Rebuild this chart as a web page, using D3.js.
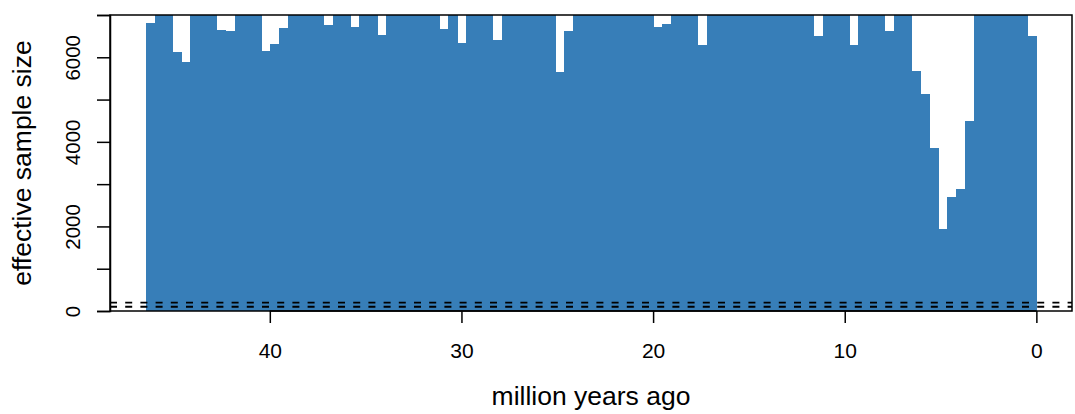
<!DOCTYPE html>
<html>
<head>
<meta charset="utf-8">
<script src="https://cdn.jsdelivr.net/npm/d3@7"></script>
<style>
  html, body { margin: 0; padding: 0; background: #ffffff; }
  svg { display: block; }
  text { font-family: "Liberation Sans", Arial, Helvetica, sans-serif; fill: #000; }
</style>
</head>
<body>
<svg id="chart" width="1075" height="414"></svg>
<script>
// ---- data ----
const rootAge = 46.48;           // million years ago, oldest bin edge
const binCount = 100;            // equal-width age bins
// effective sample size per bin, oldest (left) to youngest (right);
// values drawn as 7500 exceed the plotted range and are clipped at the top
const essValues = [
  6800, 7500, 7500, 6120, 5880, 7500, 7500, 7500, 6640, 6610,
  7500, 7500, 7500, 6160, 6310, 6700, 7500, 7500, 7500, 7500,
  6760, 7500, 7500, 6710, 7500, 7500, 6520, 7500, 7500, 7500,
  7500, 7500, 7500, 6660, 7500, 6330, 7500, 7500, 7500, 6400,
  7500, 7500, 7500, 7500, 7500, 7500, 5650, 6610, 7500, 7500,
  7500, 7500, 7500, 7500, 7500, 7500, 7500, 6710, 6780, 7500,
  7500, 7500, 6280, 7500, 7500, 7500, 7500, 7500, 7500, 7500,
  7500, 7500, 7500, 7500, 7500, 6500, 7500, 7500, 7500, 6280,
  7500, 7500, 7500, 6610, 7500, 7500, 5680, 5130, 3850, 1930,
  2690, 2890, 4500, 7500, 7500, 7500, 7500, 7500, 7500, 6500
];
const thresholds = [200, 100];   // dashed reference lines
const xTicks = [0, 10, 20, 30, 40];
const yTicks = [0, 1000, 2000, 3000, 4000, 5000, 6000, 7000];
const yLabels = [0, 2000, 4000, 6000];
const yMax = 7000;
const xLabel = "million years ago";
const yLabel = "effective sample size";

// ---- layout ----
const plot = { left: 110, right: 1072, top: 15, bottom: 311 };
const svg = d3.select("#chart");

const pad = rootAge * 0.04;
const x = d3.scaleLinear().domain([rootAge + pad, -pad]).range([plot.left, plot.right]);
const y = d3.scaleLinear().domain([0, yMax]).range([plot.bottom, plot.top]);

const binWidth = rootAge / binCount;
const bins = essValues.map((v, i) => ({
  older: rootAge - i * binWidth,
  younger: rootAge - (i + 1) * binWidth,
  value: v
}));

svg.append("clipPath").attr("id", "clip")
  .append("rect")
  .attr("x", plot.left).attr("y", plot.top)
  .attr("width", plot.right - plot.left).attr("height", plot.bottom - plot.top);

const g = svg.append("g").attr("clip-path", "url(#clip)");

g.selectAll("rect.bar").data(bins).enter().append("rect")
  .attr("class", "bar")
  .attr("x", d => x(d.older))
  .attr("width", d => x(d.younger) - x(d.older) + 0.4)
  .attr("y", d => y(d.value))
  .attr("height", d => y(0) - y(d.value))
  .attr("fill", "#377eb8")
  .attr("shape-rendering", "crispEdges");

g.selectAll("line.thr").data(thresholds).enter().append("line")
  .attr("class", "thr")
  .attr("x1", plot.left).attr("x2", plot.right)
  .attr("y1", d => y(d)).attr("y2", d => y(d))
  .attr("stroke", "#000").attr("stroke-width", 1.8)
  .attr("stroke-dasharray", "7,8.2");

// box
svg.append("rect")
  .attr("x", plot.left).attr("y", plot.top)
  .attr("width", plot.right - plot.left).attr("height", plot.bottom - plot.top)
  .attr("fill", "none").attr("stroke", "#000").attr("stroke-width", 1.5);

// x axis
const xAxis = d3.axisBottom(x).tickValues(xTicks).tickSize(12).tickPadding(20)
  .tickFormat(d3.format("d"));
const gx = svg.append("g").attr("transform", `translate(0,${plot.bottom})`).call(xAxis);
gx.select(".domain").attr("d", `M${x(xTicks[xTicks.length - 1])},0H${x(xTicks[0])}`)
  .attr("stroke-width", 1.5);
gx.selectAll(".tick line").attr("stroke-width", 1.5);
gx.selectAll(".tick text").attr("font-size", 21).attr("font-family", "Liberation Sans, Arial, sans-serif");

// y axis
const yAxis = d3.axisLeft(y).tickValues(yTicks).tickSize(13)
  .tickFormat(d => yLabels.includes(d) ? d3.format("d")(d) : "");
const gy = svg.append("g").attr("transform", `translate(${plot.left},0)`).call(yAxis);
gy.select(".domain").attr("stroke-width", 1.5);
gy.selectAll(".tick line").attr("stroke-width", 1.5);
gy.selectAll(".tick text")
  .attr("font-size", 20.5).attr("font-family", "Liberation Sans, Arial, sans-serif")
  .attr("x", null).attr("dy", null)
  .attr("text-anchor", "middle")
  .attr("transform", "translate(-30,0) rotate(-90)");

// axis titles
svg.append("text")
  .attr("x", (plot.left + plot.right) / 2).attr("y", 405)
  .attr("text-anchor", "middle").attr("font-size", 26.5)
  .text(xLabel);

svg.append("text")
  .attr("transform", `translate(31,${(plot.top + plot.bottom) / 2}) rotate(-90)`)
  .attr("text-anchor", "middle").attr("font-size", 26.5)
  .text(yLabel);
</script>
</body>
</html>
